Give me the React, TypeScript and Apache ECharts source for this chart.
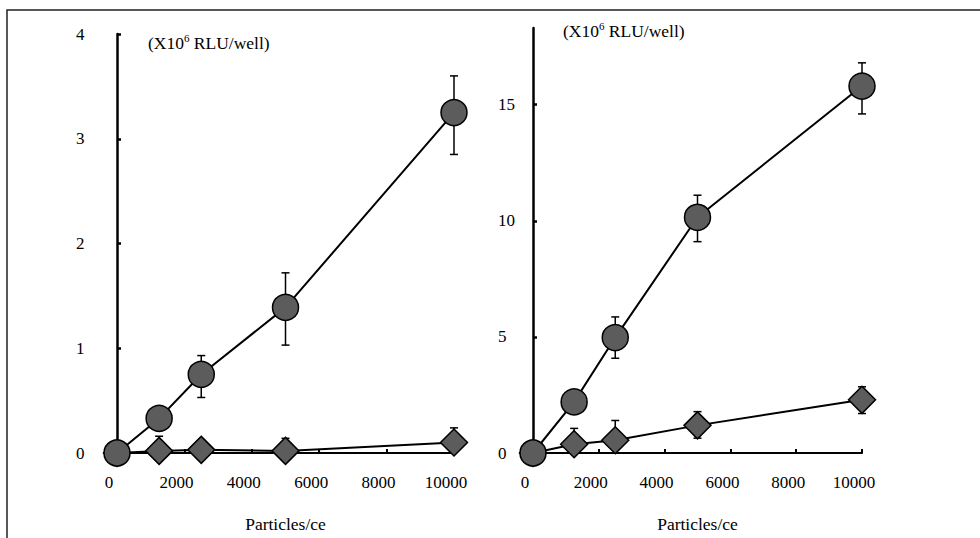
import React, { useEffect, useRef } from "react";
import * as echarts from "echarts";

const xValues = [0, 1250, 2500, 5000, 10000];
const xTicks = [0, 2000, 4000, 6000, 8000, 10000];

// Left panel
const leftCircle = [0, 0.33, 0.75, 1.39, 3.25];
const leftCircleLow = [0, 0.33, 0.53, 1.03, 2.85];
const leftCircleHigh = [0, 0.33, 0.93, 1.72, 3.6];
const leftDiamond = [0, 0.02, 0.03, 0.02, 0.1];
const leftDiamondLow = [0, 0.02, 0.03, 0.02, 0.1];
const leftDiamondHigh = [0, 0.16, 0.03, 0.14, 0.24];

// Right panel
const rightCircle = [0, 2.2, 4.97, 10.15, 15.8];
const rightCircleLow = [0, 2.2, 4.08, 9.1, 14.6];
const rightCircleHigh = [0, 2.2, 5.86, 11.1, 16.8];
const rightDiamond = [0, 0.38, 0.55, 1.19, 2.29];
const rightDiamondLow = [0, 0.38, 0.55, 0.64, 1.7];
const rightDiamondHigh = [0, 1.06, 1.4, 1.78, 2.85];

const leftYTicks = [0, 1, 2, 3, 4];
const rightYTicks = [0, 5, 10, 15];

const unitLabel = "(X10{s|6} RLU/well)";
const xName = "Particles/ce";

const FONT = "Liberation Serif";
const FILL = "#5c5c5c";
const INK = "#000";

function pairs(vals: number[]) {
  return xValues.map((x, i) => [x, vals[i]]);
}
function errData(low: number[], high: number[]) {
  return xValues
    .map((x, i) => [x, low[i], high[i]])
    .filter((d) => d[2] > d[1]);
}

function errorSeries(idx: number, low: number[], high: number[]) {
  return {
    type: "custom",
    xAxisIndex: idx,
    yAxisIndex: idx,
    z: 1,
    data: errData(low, high),
    renderItem: (params: any, api: any) => {
      const x = api.value(0);
      const lo = api.coord([x, api.value(1)]);
      const hi = api.coord([x, api.value(2)]);
      const w = 4;
      const style = { stroke: INK, lineWidth: 1.5 };
      return {
        type: "group",
        children: [
          { type: "line", shape: { x1: lo[0], y1: lo[1], x2: hi[0], y2: hi[1] }, style },
          { type: "line", shape: { x1: hi[0] - w, y1: hi[1], x2: hi[0] + w, y2: hi[1] }, style },
          { type: "line", shape: { x1: lo[0] - w, y1: lo[1], x2: lo[0] + w, y2: lo[1] }, style },
        ],
      };
    },
  };
}

function lineSeries(idx: number, vals: number[], symbol: string, size: number, z: number) {
  return {
    type: "line",
    xAxisIndex: idx,
    yAxisIndex: idx,
    z,
    data: pairs(vals),
    symbol,
    symbolSize: size,
    showAllSymbol: true,
    lineStyle: { color: INK, width: 2 },
    itemStyle: { color: FILL, borderColor: INK, borderWidth: 1.5 },
    emphasis: { disabled: true },
  };
}

function xAxis(grid: number) {
  return {
    type: "value",
    gridIndex: grid,
    min: 0,
    max: 10000,
    interval: 2000,
    splitLine: { show: false },
    axisLine: { show: true, lineStyle: { color: INK, width: 2 } },
    axisTick: { show: true, inside: true, length: 4, lineStyle: { color: INK, width: 2 } },
    axisLabel: {
      color: INK,
      fontFamily: FONT,
      fontSize: 17,
      margin: 21,
      padding: [0, 16, 0, 0],
      formatter: (v: number) => (xTicks.includes(v) ? String(v) : ""),
    },
    name: xName,
    nameLocation: "middle",
    nameGap: 62,
    nameTextStyle: { color: INK, fontFamily: FONT, fontSize: 17.5 },
  };
}

function yAxis(grid: number, max: number, interval: number, ticks: number[], margin: number, pad: number) {
  return {
    type: "value",
    gridIndex: grid,
    min: 0,
    max,
    interval,
    splitLine: { show: false },
    axisLine: { show: true, lineStyle: { color: INK, width: 2.5 } },
    axisTick: { show: true, inside: true, length: 4, lineStyle: { color: INK, width: 2.5 } },
    axisLabel: {
      color: INK,
      fontFamily: FONT,
      fontSize: 17,
      align: "left",
      margin,
      padding: [pad, 0, 0, 0],
      showMaxLabel: ticks.includes(max),
      formatter: (v: number) => (ticks.includes(v) ? String(v) : ""),
    },
  };
}

export default function App() {
  const ref = useRef<HTMLDivElement>(null);
  useEffect(() => {
    if (!ref.current) return;
    const chart = echarts.init(ref.current, null, { renderer: "svg" });
    const rich = { s: { fontSize: 11, fontFamily: FONT, padding: [0, 0, 10, 0], color: INK } };
    const titleStyle = {
      text: unitLabel,
      fontFamily: FONT,
      fontSize: 17.5,
      fill: INK,
      verticalAlign: "middle",
      rich,
    };
    chart.setOption({
      animation: false,
      backgroundColor: "#fff",
      textStyle: { fontFamily: FONT },
      grid: [
        { left: 117, top: 34, width: 337, height: 422 },
        { left: 533, top: 28, width: 329, height: 431 },
      ],
      xAxis: [xAxis(0), xAxis(1)],
      yAxis: [
        yAxis(0, 4, 1, leftYTicks, 41, 12),
        yAxis(1, 18.3, 5, rightYTicks, 35, 0),
      ],
      graphic: [
        {
          type: "rect",
          shape: { x: 7, y: 10, width: 990, height: 540 },
          style: { fill: "none", stroke: "#222", lineWidth: 1.5 },
          silent: true,
        },
        { type: "text", x: 148, y: 43, style: titleStyle },
        { type: "text", x: 563, y: 31, style: titleStyle },
      ],
      series: [
        errorSeries(0, leftCircleLow, leftCircleHigh),
        errorSeries(0, leftDiamondLow, leftDiamondHigh),
        lineSeries(0, leftDiamond, "diamond", 27, 2),
        lineSeries(0, leftCircle, "circle", 26, 3),
        errorSeries(1, rightCircleLow, rightCircleHigh),
        errorSeries(1, rightDiamondLow, rightDiamondHigh),
        lineSeries(1, rightDiamond, "diamond", 27, 2),
        lineSeries(1, rightCircle, "circle", 26, 3),
      ],
    });
    return () => chart.dispose();
  }, []);
  return <div ref={ref} style={{ width: 980, height: 538, position: "absolute", left: 0, top: 0 }} />;
}
